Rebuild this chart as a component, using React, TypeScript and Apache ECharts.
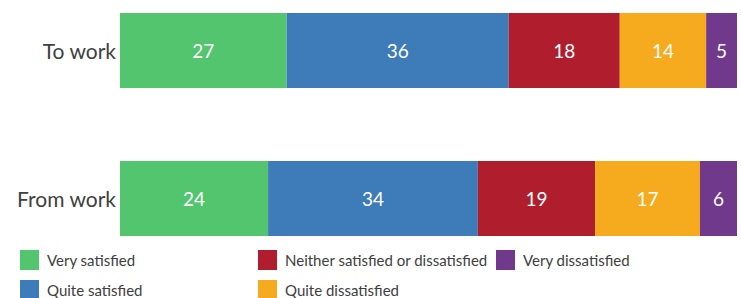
import React, { useEffect, useRef } from "react";
import * as echarts from "echarts";

const categories = ["To work", "From work"];
const seriesNames = [
  "Very satisfied",
  "Quite satisfied",
  "Neither satisfied or dissatisfied",
  "Quite dissatisfied",
  "Very dissatisfied",
];
const verySatisfied = [27, 24];
const quiteSatisfied = [36, 34];
const neither = [18, 19];
const quiteDissatisfied = [14, 17];
const veryDissatisfied = [5, 6];
const colors = ["#53C56E", "#3D7BB9", "#B01E2D", "#F6AB1F", "#70398C"];

const FONT = "Lato, 'Open Sans', sans-serif";

export default function App() {
  const ref = useRef<HTMLDivElement>(null);
  useEffect(() => {
    if (!ref.current) return;
    const chart = echarts.init(ref.current, null, { renderer: "svg" });
    const values = [verySatisfied, quiteSatisfied, neither, quiteDissatisfied, veryDissatisfied];
    const legendPos = [
      [20, 250],
      [20, 280],
      [258, 250],
      [258, 280],
      [496, 250],
    ];
    chart.setOption({
      animation: false,
      color: colors,
      textStyle: { fontFamily: FONT },
      legend: seriesNames.map((name, i) => ({
        left: legendPos[i][0],
        top: legendPos[i][1],
        padding: 0,
        itemWidth: 19,
        itemHeight: 20,
        icon: "rect",
        data: [name],
        textStyle: { color: "#404040", fontSize: 15, fontFamily: FONT, padding: [0, 0, 0, 3] },
      })),
      grid: { left: 120, right: 4, top: 50.5, height: 148, containLabel: false },
      xAxis: {
        type: "value",
        min: 0,
        max: 100,
        show: false,
      },
      yAxis: {
        type: "category",
        data: categories,
        inverse: true,
        boundaryGap: false,
        axisLine: { show: false },
        axisTick: { show: false },
        axisLabel: { color: "#404040", fontSize: 21, fontFamily: FONT, margin: 4 },
      },
      series: seriesNames.map((name, i) => ({
        name,
        type: "bar",
        stack: "total",
        barWidth: 75,
        clip: false,
        data: values[i],
        label: {
          show: true,
          position: "inside",
          color: "#ffffff",
          fontSize: 19,
          fontFamily: FONT,
        },
      })),
    });
    return () => chart.dispose();
  }, []);
  return <div ref={ref} style={{ width: 741, height: 298, position: "absolute", left: 0, top: 0 }} />;
}
